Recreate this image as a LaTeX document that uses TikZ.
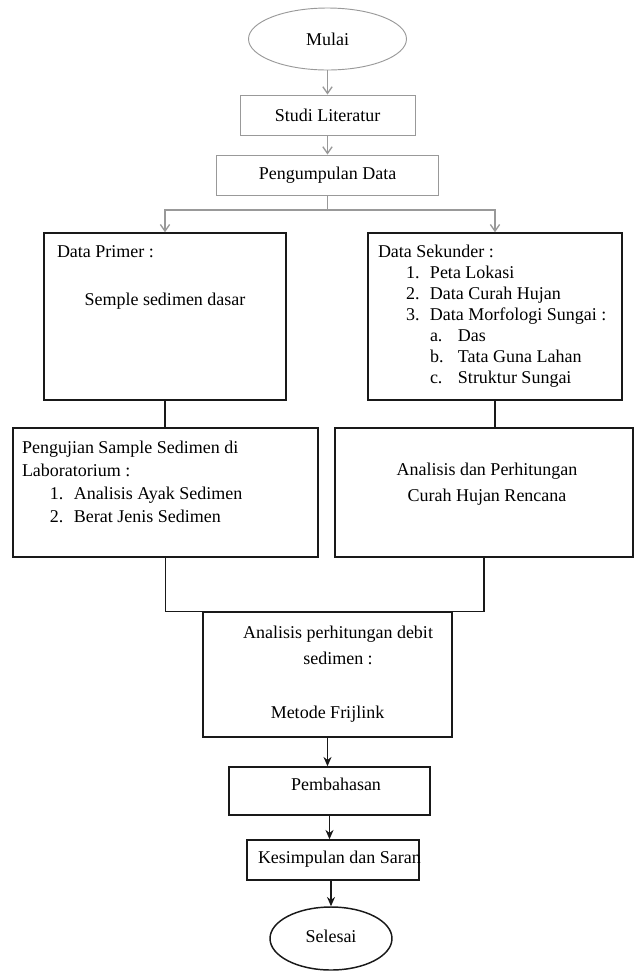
\documentclass[tikz,border=0pt]{standalone}
\usepackage{fontspec}
\setmainfont{Liberation Serif}
\usetikzlibrary{arrows.meta, shapes.geometric, positioning}
\tikzset{>=Stealth}
% text box of fixed size, text from the top
\newcommand{\inbox}[3]{\parbox[c][#2][t]{#1}{#3}}
\newcommand{\firstbl}[1]{\rule{0pt}{#1}}
\newcommand{\numitem}[2]{\hspace*{21pt}\makebox[18pt][l]{#1}#2}
\newcommand{\letitem}[2]{\hspace*{39pt}\makebox[21pt][l]{#1}#2}
\tikzset{
  gbox/.style={draw=gray!80, line width=0.7pt, inner sep=0pt, minimum height=30pt},
  bbox/.style={draw=black!90, line width=1.1pt, inner sep=0pt},
  gell/.style={ellipse, draw=gray!80, line width=0.7pt, inner sep=0pt},
  bell/.style={ellipse, draw=black!90, line width=1.1pt, inner sep=0pt},
  gline/.style={draw=gray!80, line width=1pt},
  bline/.style={draw=black!90, line width=1.1pt},
  garrow/.style={gline, -{Straight Barb[length=5pt, width=7pt]}},
  barrow/.style={bline, -{Stealth[length=7pt, width=6pt]}}
}

\begin{document}
\begin{tikzpicture}[x=0.75pt, y=-0.75pt, font=\fontsize{13.5pt}{15.75pt}\selectfont]
  \useasboundingbox (0,0) rectangle (635,972);
  \node[gell, minimum width=118.5pt, minimum height=46.5pt] (mul) at (327.5,39) {Mulai};
  \node[gbox, minimum width=131.25pt] (stu) at (327.5,115) {Studi Literatur};
  \node[gbox, minimum width=166.5pt] (pen) at (327.5,175) {Pengumpulan Data};
  \coordinate (jn) at (327.5,210);

  \node[bbox] (prim) at (165,316.5) {\inbox{181.5pt}{125.25pt}{%
    \setlength{\leftskip}{9.75pt}\firstbl{18pt}Data Primer :\par
    \vspace{20.25pt}\centering Semple sedimen dasar\par}};
  \node[bbox] (sek) at (495,316.5) {\inbox{190.5pt}{125.25pt}{%
    \setlength{\leftskip}{7.5pt}\firstbl{18pt}Data Sekunder :\\
    \numitem{1.}{Peta Lokasi}\\
    \numitem{2.}{Data Curah Hujan}\\
    \numitem{3.}{Data Morfologi Sungai :}\\
    \letitem{a.}{Das}\\
    \letitem{b.}{Tata Guna Lahan}\\
    \letitem{c.}{Struktur Sungai}}};

  \node[bbox] (uji) at (165.5,492.5) {\inbox{228.75pt}{96.75pt}{%
    \fontsize{13.5pt}{17.25pt}\selectfont
    \setlength{\leftskip}{6.75pt}\firstbl{18.75pt}Pengujian Sample Sedimen di\\
    Laboratorium :\\
    \numitem{1.}{Analisis Ayak Sedimen}\\
    \numitem{2.}{Berat Jenis Sedimen}}};
  \node[bbox] (ana) at (484,492.5) {\inbox{223.5pt}{96.75pt}{%
    \fontsize{13.5pt}{19.5pt}\selectfont
    \centering\firstbl{35.25pt}\hspace*{4.5pt}Analisis dan Perhitungan\\
    \hspace*{4.5pt}Curah Hujan Rencana}};

  \node[bbox] (deb) at (327.5,674.5) {\inbox{186.75pt}{93.75pt}{%
    \fontsize{13.5pt}{20pt}\selectfont
    \centering\firstbl{19.5pt}\hspace*{15.75pt}Analisis perhitungan debit\\
    \hspace*{15.75pt}sedimen :\\[20pt]
    Metode Frijlink}};
  \node[bbox] (pem) at (329.5,791) {\inbox{150.75pt}{36pt}{%
    \centering\firstbl{17.25pt}\hspace*{9.75pt}Pembahasan}};
  \node[bbox] (kes) at (333,860) {\inbox{129pt}{30pt}{%
    \setlength{\leftskip}{8.25pt}\firstbl{17.25pt}\makebox[0pt][l]{Kesimpulan dan Saran}}};
  \node[bell, minimum width=91.5pt, minimum height=47.25pt] (sel) at (331,938.5) {\raisebox{3.75pt}{Selesai}};

  % connectors
  \draw[garrow] (mul) -- (stu);
  \draw[garrow] (stu) -- (pen);
  \draw[gline] (pen) -- (jn);
  \draw[garrow] (jn) -| (prim.north);
  \draw[garrow] (jn) -| (sek.north);
  \draw[bline] (prim.south) -- (prim.south |- uji.north);
  \draw[bline] (sek.south) -- (sek.south |- ana.north);
  \draw[bline] (uji.south) |- (deb.north west);
  \draw[bline] (ana.south) |- (deb.north east);
  \draw[barrow] (deb.south) -- (deb.south |- pem.north);
  \draw[barrow] (pem.south) -- (pem.south |- kes.north);
  \draw[barrow] (sel.north |- kes.south) -- (sel.north);
\end{tikzpicture}
\end{document}
